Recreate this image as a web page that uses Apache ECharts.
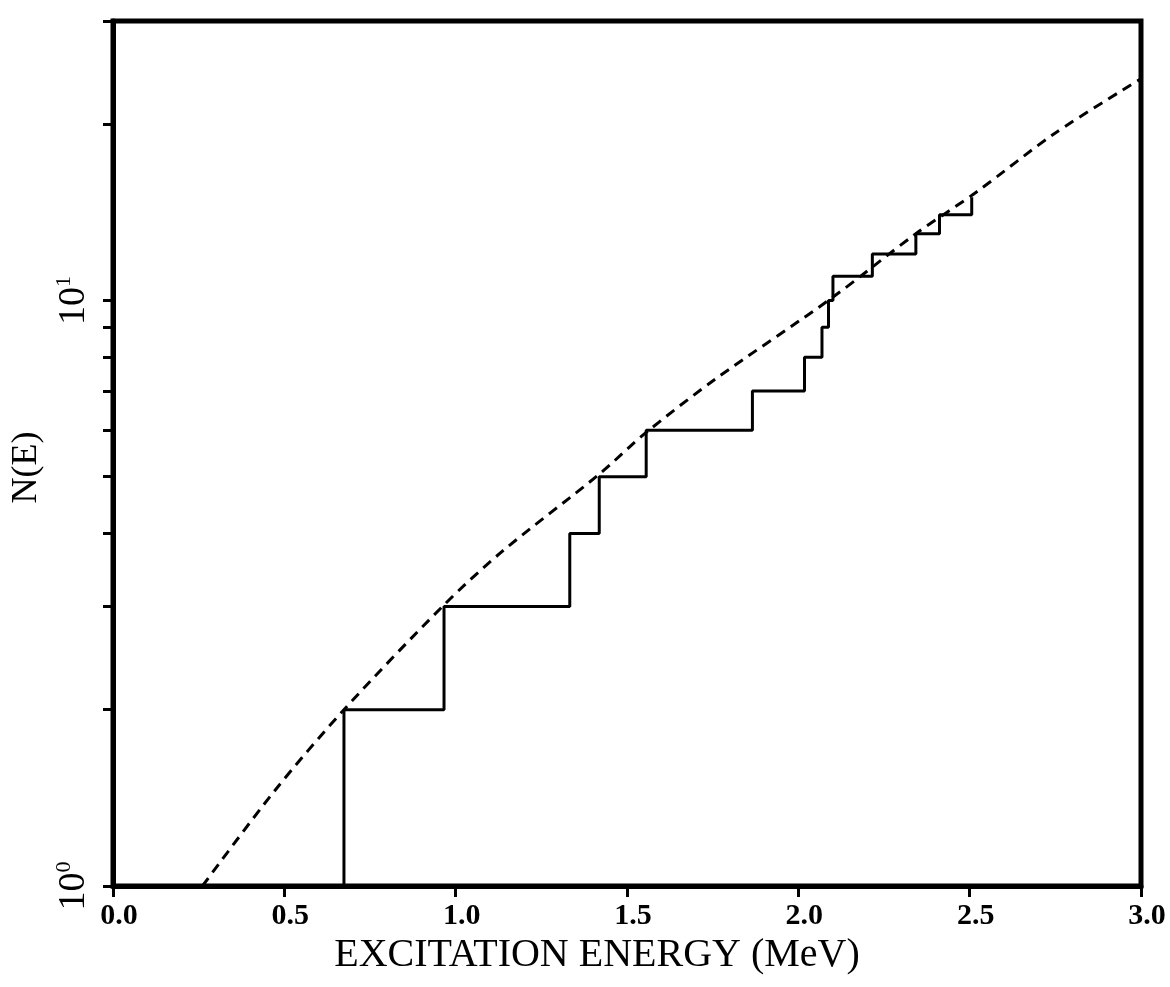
<!DOCTYPE html>
<html>
<head>
<meta charset="utf-8">
<script src="https://cdn.jsdelivr.net/npm/echarts@6/dist/echarts.min.js"></script>
<style>
  html, body { margin: 0; padding: 0; background: #ffffff; }
  #chart { width: 1170px; height: 987px; }
</style>
</head>
<body>
<div id="chart"></div>
<script>
// Observed levels: excitation energy (MeV) and cumulative level count reached there
const levelEnergies = [0.674, 0.966, 1.333, 1.419, 1.556, 1.866, 2.018, 2.069, 2.088, 2.101, 2.216, 2.343, 2.412, 2.506];
const levelCounts   = [2, 3, 4, 5, 6, 7, 8, 9, 10, 11, 12, 13, 14, 15];

// Level-density prediction N(E), dashed curve
const curveEnergies = [0.261, 0.470, 0.674, 0.966, 1.134, 1.419, 1.556, 1.758, 2.098, 2.343, 2.519, 2.749, 3.0];
const curveCounts   = [1.00, 1.45, 2.00, 3.02, 3.72, 5.05, 5.95, 7.34, 10.1, 13.0, 15.3, 19.3, 23.9];

// Axis ticks and labels
const xTickLabels   = ['0.0', '0.5', '1.0', '1.5', '2.0', '2.5', '3.0'];
const yLabelValues  = [1, 10];
const yLabelExps    = ['0', '1'];
const yTickValues   = [1, 2, 3, 4, 5, 6, 7, 8, 9, 10, 20, 30];

const FONT = "'Liberation Serif', 'DejaVu Serif', 'Times New Roman', serif";

// Staircase: start on the baseline at the first level, then one point per level
const stairData = [[levelEnergies[0], 1]].concat(
  levelEnergies.map((e, i) => [e, levelCounts[i]])
);
const curveData = curveEnergies.map((e, i) => [e, curveCounts[i]]);

const chart = echarts.init(document.getElementById('chart'), null, { renderer: 'canvas' });

chart.setOption({
  backgroundColor: '#ffffff',
  animation: false,
  grid: {
    left: 113, right: 29, top: 21, bottom: 101,
    show: true, borderColor: '#000', borderWidth: 5, backgroundColor: 'transparent'
  },
  xAxis: {
    type: 'value',
    min: 0, max: 3, interval: 0.5,
    name: 'EXCITATION ENERGY (MeV)',
    nameLocation: 'middle',
    nameGap: 47,
    nameTextStyle: { fontFamily: FONT, fontSize: 40, color: '#000', padding: [0, 60, 0, 0] },
    axisLine: { show: true, onZero: false, lineStyle: { color: '#000', width: 5 } },
    axisTick: { show: true, inside: false, length: 11, lineStyle: { color: '#000', width: 3 } },
    axisLabel: {
      margin: 15,
      padding: [0, 0, 0, 12],
      fontFamily: FONT, fontSize: 30, fontWeight: 'bold', color: '#000',
      formatter: (v) => xTickLabels[Math.round(v / 0.5)]
    },
    splitLine: { show: false }
  },
  yAxis: {
    type: 'log',
    logBase: 10,
    min: 1, max: 30,
    name: 'N(E)',
    nameLocation: 'middle',
    nameGap: 68,
    nameTextStyle: { fontFamily: FONT, fontSize: 36, color: '#000', padding: [0, 28, 0, 0] },
    axisLine: { show: true, lineStyle: { color: '#000', width: 5 } },
    axisTick: {
      show: true, inside: false, length: 10,
      customValues: yTickValues,
      lineStyle: { color: '#000', width: 3 }
    },
    axisLabel: {
      customValues: yLabelValues,
      rotate: 90,
      margin: 20,
      color: '#000',
      formatter: (v) => {
        const i = yLabelValues.findIndex(t => Math.abs(t - v) < 1e-6);
        return i >= 0 ? '{b|10}{e|' + yLabelExps[i] + '}' : '';
      },
      rich: {
        b: { fontFamily: FONT, fontSize: 38, color: '#000', lineHeight: 40, verticalAlign: 'bottom' },
        e: { fontFamily: FONT, fontSize: 22, color: '#000', verticalAlign: 'top' }
      }
    },
    splitLine: { show: false },
    minorTick: { show: false }
  },
  series: [
    {
      name: 'N(E) curve',
      type: 'line',
      data: curveData,
      smooth: 0.3,
      showSymbol: false,
      symbol: 'none',
      lineStyle: { color: '#000', width: 3, type: [10, 7] },
      z: 2
    },
    {
      name: 'Levels',
      type: 'line',
      data: stairData,
      step: 'end',
      showSymbol: false,
      symbol: 'none',
      lineStyle: { color: '#000', width: 3 },
      z: 3
    }
  ]
});
</script>
</body>
</html>
